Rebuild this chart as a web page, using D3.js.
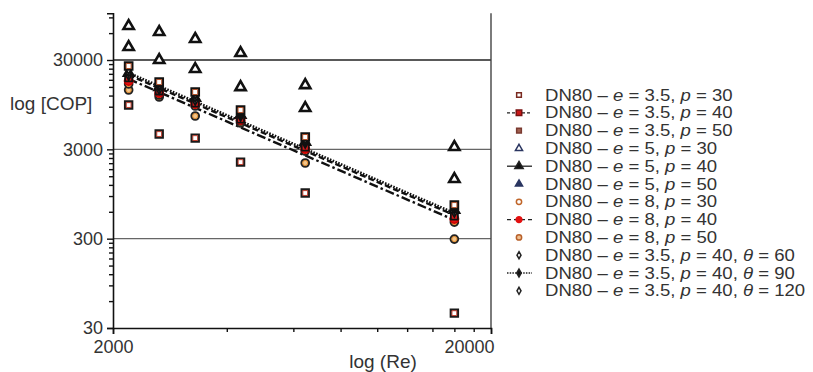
<!DOCTYPE html>
<html lang="en">
<head>
  <meta charset="UTF-8">
  <title>COP vs Re</title>
  <script src="https://d3js.org/d3.v7.min.js"></script>
  <style>
    body { margin: 0; background: #fff; }
    svg text { font-family: "Liberation Sans", Arial, sans-serif; fill: #333; }
  </style>
</head>
<body>
  <svg id="chart" width="813" height="372"></svg>

  <script>
    // Reynolds numbers of the six test columns
    const reValues = [2200, 2650, 3300, 4350, 6450, 16000];

    // COP values, one array per series
    const e35p30 = [9400, 4450, 4010, 2160, 973, 44];
    const e35p40 = [18900, 13500, 9900, 6550, 3180, 537];
    const e35p50 = [25700, 17000, 13150, 8260, 4120, 713];
    const e5p30 = [41900, 30000, 23800, 14900, 8700, 1395];
    const e5p40 = [21500, 14900, 11250, 7270, 3620, 627];
    const e5p50 = [72100, 61700, 51600, 35900, 15700, 3180];
    const e8p30 = [13840, 11550, 7080, 5910, 2110, 297];
    const e8p40 = [17500, 12800, 9650, 6390, 3020, 498];
    const e8p50 = [16200, 12170, 9160, 6230, 2870, 460];
    const th60 = [23200, 15700, 12170, 7650, 3810, 661];
    const th90 = [21500, 14900, 11250, 7270, 3620, 627];
    const th120 = [19900, 13840, 10400, 6900, 3440, 580];

    // fitted power-law lines: COP at the first and last Re
    const fitRe = [2200, 16000];
    const fitTh90 = [21500, 580];
    const fitE35p40 = [20400, 551];
    const fitE8p40 = [18400, 485];

    // axis ticks
    const yMajor = [30, 300, 3000, 30000];
    const xMajor = [2000, 20000];
    const gridValues = [300, 3000, 30000];

    const legendLabels = [
      ["3.5", "30"], ["3.5", "40"], ["3.5", "50"],
      ["5", "30"], ["5", "40"], ["5", "50"],
      ["8", "30"], ["8", "40"], ["8", "50"],
      ["3.5", "40", "60"], ["3.5", "40", "90"], ["3.5", "40", "120"]
    ];

    const svg = d3.select("svg#chart");

    const x = d3.scaleLog().domain([2000, 20000]).range([113, 491]);
    const y = d3.scaleLog().domain([30, 100000]).range([328, 13.3]);

    // minor ticks: 2..9 times each major value
    const yMinor = [];
    yMajor.forEach(k => { for (let m = 2; m <= 9; m++) if (k * m <= 100000) yMinor.push(k * m); });
    const xMinor = d3.range(4000, 20000, 2000);

    // grid lines
    svg.selectAll("line.grid").data(gridValues)
      .join("line")
      .attr("class", "grid")
      .attr("x1", x(2000)).attr("x2", x(20000))
      .attr("y1", d => y(d)).attr("y2", d => y(d))
      .attr("stroke", d => d === 30000 ? "#222" : "#666")
      .attr("stroke-width", 1.4);

    // right frame line
    svg.append("line")
      .attr("x1", x(20000)).attr("x2", x(20000))
      .attr("y1", y(100000)).attr("y2", y(30))
      .attr("stroke", "#444").attr("stroke-width", 1.4);

    // axes
    const yAxis = svg.append("g").attr("transform", `translate(${x(2000)},0)`)
      .call(d3.axisLeft(y).tickValues(yMajor).tickFormat(d3.format("d")).tickSize(6).tickPadding(4));
    svg.append("g").attr("transform", `translate(${x(2000)},0)`)
      .call(d3.axisLeft(y).tickValues(yMinor).tickFormat("").tickSize(4))
      .call(g => g.select(".domain").remove());

    const xAxis = svg.append("g").attr("transform", `translate(0,${y(30)})`)
      .call(d3.axisBottom(x).tickValues(xMajor).tickFormat(d3.format("d")).tickSize(6).tickPadding(6));
    svg.append("g").attr("transform", `translate(0,${y(30)})`)
      .call(d3.axisBottom(x).tickValues(xMinor).tickFormat("").tickSize(4))
      .call(g => g.select(".domain").remove());

    [yAxis, xAxis].forEach(g => {
      g.select(".domain").attr("stroke", "#111").attr("stroke-width", 1.6);
      g.selectAll(".tick text").style("font-size", "18px").attr("fill", "#333");
    });
    svg.selectAll("g .tick line").attr("stroke", "#111").attr("stroke-width", 1.4);
    // the last x label sits flush with the axis end
    xAxis.selectAll(".tick").filter(d => d === 20000).select("text")
      .attr("text-anchor", "end").attr("x", 3);

    // axis titles
    svg.append("text").attr("x", 10).attr("y", 110)
      .style("font-size", "19px").text("log [COP]");
    svg.append("text").attr("x", 383).attr("y", 368).attr("text-anchor", "middle")
      .style("font-size", "19px").text("log (Re)");

    // fitted lines
    const fits = [
      { values: fitTh90, dash: "1.6,1.4", width: 2.6 },
      { values: fitE35p40, dash: "6,3", width: 2.4 },
      { values: fitE8p40, dash: "9,3,2.5,3", width: 2.4 }
    ];
    const line = d3.line().x(d => x(d[0])).y(d => y(d[1]));
    svg.selectAll("path.fit").data(fits)
      .join("path")
      .attr("class", "fit")
      .attr("d", d => line(fitRe.map((r, i) => [r, d.values[i]])))
      .attr("fill", "none")
      .attr("stroke", "#111")
      .attr("stroke-width", d => d.width)
      .attr("stroke-dasharray", d => d.dash);

    // marker shapes
    const sq = d3.symbol().type(d3.symbolSquare);
    const tri = d3.symbol().type(d3.symbolTriangle);
    const cir = d3.symbol().type(d3.symbolCircle);
    const dia = d3.symbol().type(d3.symbolDiamond);

    // series in drawing order (bottom first)
    const series = [
      { id: 0, values: e35p30, sym: sq, size: 52, fill: "#fff", stroke: "#1a1a1a", sw: 2.2, ring: "#c04030", lSize: 22, lStroke: "#7a2a20" },
      { id: 4, values: e5p40, sym: tri, size: 40, fill: "#fff", stroke: "#111", sw: 2.4, lSize: 30, lFill: "#111" },
      { id: 3, values: e5p30, sym: tri, size: 46, fill: "#fff", stroke: "#111", sw: 2.6, lSize: 22, lStroke: "#2a3560" },
      { id: 5, values: e5p50, sym: tri, size: 46, fill: "#fff", stroke: "#111", sw: 2.6, lSize: 22, lFill: "#2a3560", lStroke: "#2a3560" },
      { id: 6, values: e8p30, sym: cir, size: 46, fill: "#f3c58a", stroke: "#222", sw: 2, ring: "#e08a2c", lSize: 22, lStroke: "#c0662a" },
      { id: 8, values: e8p50, sym: cir, size: 46, fill: "#f3c58a", stroke: "#222", sw: 2, ring: "#e08a2c", lSize: 22, lStroke: "#b8602a", lFill: "#f0c090" },
      { id: 7, values: e8p40, sym: cir, size: 56, fill: "#e31010", stroke: "#c00", sw: 1.5, lSize: 26, lFill: "#e31010", lStroke: "#e31010" },
      { id: 1, values: e35p40, sym: sq, size: 50, fill: "#d61a1a", stroke: "#111", sw: 1.8, lSize: 30, lFill: "#c81818", lStroke: "#7a1010" },
      { id: 11, values: th120, sym: dia, size: 18, fill: "#fff", stroke: "#111", sw: 1.8, lSize: 14 },
      { id: 10, values: th90, sym: dia, size: 18, fill: "#fff", stroke: "#111", sw: 1.8, lSize: 18, lFill: "#111" },
      { id: 9, values: th60, sym: dia, size: 18, fill: "#fff", stroke: "#111", sw: 1.8, lSize: 14 },
      { id: 2, values: e35p50, sym: sq, size: 56, fill: "#fff", stroke: "#111", sw: 2.2, ring: "#b0502a", lSize: 22, lFill: "#a06050", lStroke: "#7a3a30" }
    ];

    series.forEach(s => {
      const pts = reValues.map((r, i) => [r, s.values[i]]);
      const g = svg.append("g");
      g.selectAll("path.mark").data(pts).join("path")
        .attr("class", "mark")
        .attr("transform", d => `translate(${x(d[0])},${y(d[1])})`)
        .attr("d", s.sym.size(s.size)())
        .attr("fill", s.fill).attr("stroke", s.stroke).attr("stroke-width", s.sw);
      if (s.ring) {
        // thin coloured inner edge, as on the original markers
        g.selectAll("path.ring").data(pts).join("path")
          .attr("class", "ring")
          .attr("transform", d => `translate(${x(d[0])},${y(d[1])})`)
          .attr("d", s.sym.size(s.size * 0.45)())
          .attr("fill", "none").attr("stroke", s.ring).attr("stroke-width", 1);
      }
    });

    // legend
    const legendLines = { 1: "3,2", 4: null, 7: "4,3", 10: "1.5,1.2" };
    const lx = 519, ly0 = 95, lStep = 17.8;
    const leg = svg.append("g");
    legendLabels.forEach((lab, i) => {
      const cy = ly0 + i * lStep;
      if (i in legendLines) {
        leg.append("line").attr("x1", lx - 12).attr("x2", lx + 13)
          .attr("y1", cy).attr("y2", cy)
          .attr("stroke", "#222").attr("stroke-width", 1.3)
          .attr("stroke-dasharray", legendLines[i]);
      }
      const s = series.find(d => d.id === i);
      leg.append("path")
        .attr("transform", `translate(${lx},${cy})`)
        .attr("d", s.sym.size(s.lSize)())
        .attr("fill", s.lFill || "#fff")
        .attr("stroke", s.lStroke || "#222")
        .attr("stroke-width", 1.5);

      // glyphs in the original are a little wider than Arial: stretch horizontally
      const t = leg.append("text")
        .attr("transform", `translate(545,${cy + 5.6}) scale(1.19,1)`)
        .style("font-size", "15.6px");
      t.append("tspan").text("DN80 \u2013 ");
      t.append("tspan").style("font-style", "italic").text("e");
      t.append("tspan").text(` = ${lab[0]}, `);
      t.append("tspan").style("font-style", "italic").text("p");
      t.append("tspan").text(` = ${lab[1]}`);
      if (lab.length > 2) {
        t.append("tspan").text(", ");
        t.append("tspan").style("font-style", "italic").text("\u03b8");
        t.append("tspan").text(` = ${lab[2]}`);
      }
    });
  </script>
</body>
</html>
